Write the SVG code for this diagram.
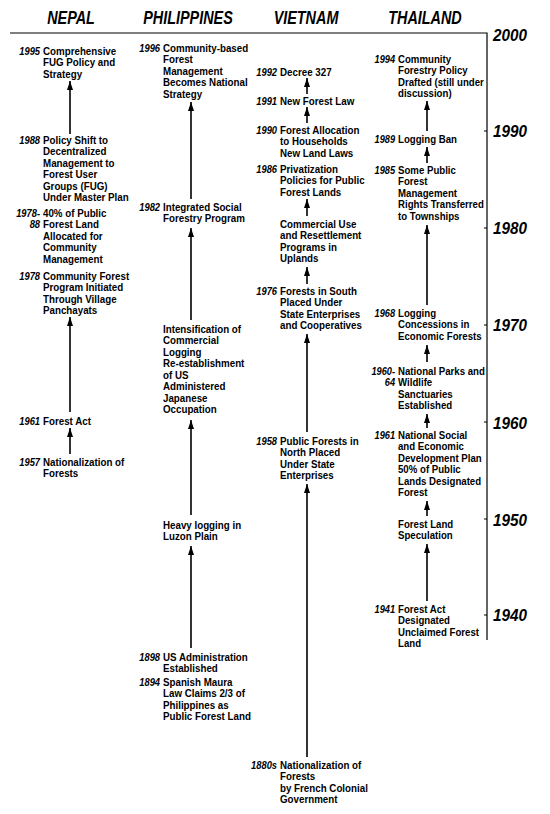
<svg xmlns="http://www.w3.org/2000/svg" width="550" height="814" viewBox="0 0 550 814">
<style>
text{font-family:"Liberation Sans",Arial,sans-serif;fill:#000}
.t{font-size:11.5px;font-weight:bold}
.y{font-size:11px;font-weight:bold;font-style:italic;text-anchor:end}
.h{font-size:18px;font-weight:bold;font-style:italic;text-anchor:middle}
.ax{font-size:17px;font-weight:bold;font-style:italic}
.c{stroke:#000;stroke-width:1.6;fill:none;marker-end:url(#ah)}
.frame{stroke:#000;stroke-width:1.2;fill:none}
</style>
<defs>
<marker id="ah" viewBox="0 0 10 10" refX="10" refY="5" markerWidth="9" markerHeight="6" markerUnits="userSpaceOnUse" orient="auto" preserveAspectRatio="none">
<path d="M0,0 L10,5 L0,10 z" fill="#000"/>
</marker>
</defs>
<rect width="550" height="814" fill="#fff"/>

<g id="headers">
<text class="h" transform="matrix(0.8 0 0 1 71 24)">NEPAL</text>
<text class="h" transform="matrix(0.8 0 0 1 188 24)">PHILIPPINES</text>
<text class="h" transform="matrix(0.8 0 0 1 306 24)">VIETNAM</text>
<text class="h" transform="matrix(0.8 0 0 1 425 24)">THAILAND</text>
</g>

<g id="axis">
<path class="frame" d="M10,33 H487 V640"/>
<g stroke="#000" stroke-width="1">
<line x1="484" y1="131" x2="487" y2="131"/>
<line x1="484" y1="228" x2="487" y2="228"/>
<line x1="484" y1="325" x2="487" y2="325"/>
<line x1="484" y1="422" x2="487" y2="422"/>
<line x1="484" y1="519" x2="487" y2="519"/>
<line x1="484" y1="615" x2="487" y2="615"/>
</g>
<g transform="matrix(0.9 0 0 1 493 0)">
<text class="ax" x="0" y="41">2000</text>
<text class="ax" x="0" y="137">1990</text>
<text class="ax" x="0" y="234">1980</text>
<text class="ax" x="0" y="331">1970</text>
<text class="ax" x="0" y="429">1960</text>
<text class="ax" x="0" y="526">1950</text>
<text class="ax" x="0" y="621">1940</text>
</g>
</g>

<g id="connectors">
<line class="c" x1="70" y1="134" x2="70" y2="81"/>
<line class="c" x1="70" y1="412" x2="70" y2="317"/>
<line class="c" x1="70" y1="454" x2="70" y2="428"/>

<line class="c" x1="191" y1="199" x2="191" y2="102"/>
<line class="c" x1="191" y1="320" x2="191" y2="228"/>
<line class="c" x1="191" y1="515" x2="191" y2="420"/>
<line class="c" x1="191" y1="648" x2="191" y2="546"/>

<line class="c" x1="307" y1="94" x2="307" y2="78"/>
<line class="c" x1="307" y1="123" x2="307" y2="107"/>
<line class="c" x1="307" y1="216" x2="307" y2="199"/>
<line class="c" x1="307" y1="284" x2="307" y2="267"/>
<line class="c" x1="307" y1="432" x2="307" y2="334"/>
<line class="c" x1="307" y1="757" x2="307" y2="484"/>

<line class="c" x1="427" y1="131" x2="427" y2="101"/>
<line class="c" x1="427" y1="163" x2="427" y2="147"/>
<line class="c" x1="427" y1="305" x2="427" y2="225"/>
<line class="c" x1="427" y1="362" x2="427" y2="345"/>
<line class="c" x1="427" y1="428" x2="427" y2="414"/>
<line class="c" x1="427" y1="516" x2="427" y2="501"/>
<line class="c" x1="427" y1="601" x2="427" y2="544"/>
</g>

<g id="nepal-1995" transform="matrix(0.85 0 0 1 43 0)">
<text class="y" x="-3.5" y="55">1995</text>
<text class="t" x="0" y="55">Comprehensive</text>
<text class="t" x="0" y="66.5">FUG Policy and</text>
<text class="t" x="0" y="78">Strategy</text>
</g>
<g id="nepal-1988" transform="matrix(0.85 0 0 1 43 0)">
<text class="y" x="-3.5" y="144">1988</text>
<text class="t" x="0" y="144">Policy Shift to</text>
<text class="t" x="0" y="155.5">Decentralized</text>
<text class="t" x="0" y="167">Management to</text>
<text class="t" x="0" y="178.5">Forest User</text>
<text class="t" x="0" y="190">Groups (FUG)</text>
<text class="t" x="0" y="201.5">Under Master Plan</text>
</g>
<g id="nepal-1978-88" transform="matrix(0.85 0 0 1 43 0)">
<text class="y" x="-3.5" y="217">1978-</text>
<text class="y" x="-3.5" y="228.5">88</text>
<text class="t" x="0" y="217">40% of Public</text>
<text class="t" x="0" y="228.5">Forest Land</text>
<text class="t" x="0" y="240">Allocated for</text>
<text class="t" x="0" y="251.5">Community</text>
<text class="t" x="0" y="263">Management</text>
</g>
<g id="nepal-1978" transform="matrix(0.85 0 0 1 43 0)">
<text class="y" x="-3.5" y="280">1978</text>
<text class="t" x="0" y="280">Community Forest</text>
<text class="t" x="0" y="291.5">Program Initiated</text>
<text class="t" x="0" y="303">Through Village</text>
<text class="t" x="0" y="314.5">Panchayats</text>
</g>
<g id="nepal-1961" transform="matrix(0.85 0 0 1 43 0)">
<text class="y" x="-3.5" y="425">1961</text>
<text class="t" x="0" y="425">Forest Act</text>
</g>
<g id="nepal-1957" transform="matrix(0.85 0 0 1 43 0)">
<text class="y" x="-3.5" y="466">1957</text>
<text class="t" x="0" y="466">Nationalization of</text>
<text class="t" x="0" y="477.5">Forests</text>
</g>

<g id="phil-1996" transform="matrix(0.85 0 0 1 163 0)">
<text class="y" x="-3.5" y="52">1996</text>
<text class="t" x="0" y="52">Community-based</text>
<text class="t" x="0" y="63.5">Forest</text>
<text class="t" x="0" y="75">Management</text>
<text class="t" x="0" y="86.5">Becomes National</text>
<text class="t" x="0" y="98">Strategy</text>
</g>
<g id="phil-1982" transform="matrix(0.85 0 0 1 163 0)">
<text class="y" x="-3.5" y="211">1982</text>
<text class="t" x="0" y="211">Integrated Social</text>
<text class="t" x="0" y="222.5">Forestry Program</text>
</g>
<g id="phil-intensification" transform="matrix(0.85 0 0 1 163 0)">
<text class="t" x="0" y="333">Intensification of</text>
<text class="t" x="0" y="344.5">Commercial</text>
<text class="t" x="0" y="356">Logging</text>
<text class="t" x="0" y="367.5">Re-establishment</text>
<text class="t" x="0" y="379">of US</text>
<text class="t" x="0" y="390.5">Administered</text>
<text class="t" x="0" y="402">Japanese</text>
<text class="t" x="0" y="413.5">Occupation</text>
</g>
<g id="phil-luzon" transform="matrix(0.85 0 0 1 163 0)">
<text class="t" x="0" y="529">Heavy logging in</text>
<text class="t" x="0" y="540.5">Luzon Plain</text>
</g>
<g id="phil-1898" transform="matrix(0.85 0 0 1 163 0)">
<text class="y" x="-3.5" y="661">1898</text>
<text class="t" x="0" y="661">US Administration</text>
<text class="t" x="0" y="672.5">Established</text>
</g>
<g id="phil-1894" transform="matrix(0.85 0 0 1 163 0)">
<text class="y" x="-3.5" y="686">1894</text>
<text class="t" x="0" y="686">Spanish Maura</text>
<text class="t" x="0" y="697.5">Law Claims 2/3 of</text>
<text class="t" x="0" y="709">Philippines as</text>
<text class="t" x="0" y="720.5">Public Forest Land</text>
</g>

<g id="viet-1992" transform="matrix(0.85 0 0 1 280 0)">
<text class="y" x="-3.5" y="76">1992</text>
<text class="t" x="0" y="76">Decree 327</text>
</g>
<g id="viet-1991" transform="matrix(0.85 0 0 1 280 0)">
<text class="y" x="-3.5" y="105">1991</text>
<text class="t" x="0" y="105">New Forest Law</text>
</g>
<g id="viet-1990" transform="matrix(0.85 0 0 1 280 0)">
<text class="y" x="-3.5" y="134">1990</text>
<text class="t" x="0" y="134">Forest Allocation</text>
<text class="t" x="0" y="145.5">to Households</text>
<text class="t" x="0" y="157">New Land Laws</text>
</g>
<g id="viet-1986" transform="matrix(0.85 0 0 1 280 0)">
<text class="y" x="-3.5" y="173">1986</text>
<text class="t" x="0" y="173">Privatization</text>
<text class="t" x="0" y="184.5">Policies for Public</text>
<text class="t" x="0" y="196">Forest Lands</text>
</g>
<g id="viet-commercial" transform="matrix(0.85 0 0 1 280 0)">
<text class="t" x="0" y="228">Commercial Use</text>
<text class="t" x="0" y="239.5">and Resettlement</text>
<text class="t" x="0" y="251">Programs in</text>
<text class="t" x="0" y="262.5">Uplands</text>
</g>
<g id="viet-1976" transform="matrix(0.85 0 0 1 280 0)">
<text class="y" x="-3.5" y="295">1976</text>
<text class="t" x="0" y="295">Forests in South</text>
<text class="t" x="0" y="306.5">Placed Under</text>
<text class="t" x="0" y="318">State Enterprises</text>
<text class="t" x="0" y="329.5">and Cooperatives</text>
</g>
<g id="viet-1958" transform="matrix(0.85 0 0 1 280 0)">
<text class="y" x="-3.5" y="445">1958</text>
<text class="t" x="0" y="445">Public Forests in</text>
<text class="t" x="0" y="456.5">North Placed</text>
<text class="t" x="0" y="468">Under State</text>
<text class="t" x="0" y="479.5">Enterprises</text>
</g>
<g id="viet-1880s" transform="matrix(0.85 0 0 1 280 0)">
<text class="y" x="-3.5" y="769">1880s</text>
<text class="t" x="0" y="769">Nationalization of</text>
<text class="t" x="0" y="780.5">Forests</text>
<text class="t" x="0" y="792">by French Colonial</text>
<text class="t" x="0" y="803.5">Government</text>
</g>

<g id="thai-1994" transform="matrix(0.84 0 0 1 398 0)">
<text class="y" x="-3.5" y="63">1994</text>
<text class="t" x="0" y="63">Community</text>
<text class="t" x="0" y="74.5">Forestry Policy</text>
<text class="t" x="0" y="86">Drafted (still under</text>
<text class="t" x="0" y="97.5">discussion)</text>
</g>
<g id="thai-1989" transform="matrix(0.84 0 0 1 398 0)">
<text class="y" x="-3.5" y="143">1989</text>
<text class="t" x="0" y="143">Logging Ban</text>
</g>
<g id="thai-1985" transform="matrix(0.84 0 0 1 398 0)">
<text class="y" x="-3.5" y="174">1985</text>
<text class="t" x="0" y="174">Some Public</text>
<text class="t" x="0" y="185.5">Forest</text>
<text class="t" x="0" y="197">Management</text>
<text class="t" x="0" y="208.5">Rights Transferred</text>
<text class="t" x="0" y="220">to Townships</text>
</g>
<g id="thai-1968" transform="matrix(0.84 0 0 1 398 0)">
<text class="y" x="-3.5" y="317">1968</text>
<text class="t" x="0" y="317">Logging</text>
<text class="t" x="0" y="328.5">Concessions in</text>
<text class="t" x="0" y="340">Economic Forests</text>
</g>
<g id="thai-1960-64" transform="matrix(0.84 0 0 1 398 0)">
<text class="y" x="-3.5" y="375">1960-</text>
<text class="y" x="-3.5" y="386.5">64</text>
<text class="t" x="0" y="375">National Parks and</text>
<text class="t" x="0" y="386.5">Wildlife</text>
<text class="t" x="0" y="398">Sanctuaries</text>
<text class="t" x="0" y="409.5">Established</text>
</g>
<g id="thai-1961" transform="matrix(0.84 0 0 1 398 0)">
<text class="y" x="-3.5" y="439">1961</text>
<text class="t" x="0" y="439">National Social</text>
<text class="t" x="0" y="450.5">and Economic</text>
<text class="t" x="0" y="462">Development Plan</text>
<text class="t" x="0" y="473.5">50% of Public</text>
<text class="t" x="0" y="485">Lands Designated</text>
<text class="t" x="0" y="496.5">Forest</text>
</g>
<g id="thai-speculation" transform="matrix(0.84 0 0 1 398 0)">
<text class="t" x="0" y="528">Forest Land</text>
<text class="t" x="0" y="539.5">Speculation</text>
</g>
<g id="thai-1941" transform="matrix(0.84 0 0 1 398 0)">
<text class="y" x="-3.5" y="613">1941</text>
<text class="t" x="0" y="613">Forest Act</text>
<text class="t" x="0" y="624.5">Designated</text>
<text class="t" x="0" y="636">Unclaimed Forest</text>
<text class="t" x="0" y="647.5">Land</text>
</g>
</svg>
